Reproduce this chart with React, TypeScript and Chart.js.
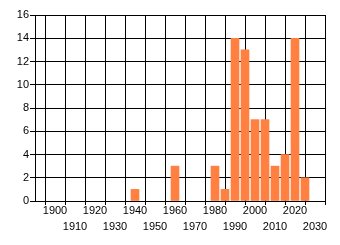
import React, { useEffect, useRef } from "react";
import { Chart, registerables } from "chart.js";

Chart.register(...registerables);

const years: number[] = [1940, 1960, 1980, 1985, 1990, 1995, 2000, 2005, 2010, 2015, 2020, 2025];
const counts: number[] = [1, 3, 3, 1, 14, 13, 7, 7, 3, 4, 14, 2];
const xMin = 1890;
const xMax = 2035;
const xStep = 10;
const yMin = 0;
const yMax = 16;
const yStep = 2;

const FONT = "'Liberation Sans', Arial, sans-serif";

export default function App() {
  const ref = useRef<HTMLCanvasElement | null>(null);
  useEffect(() => {
    document.body.style.margin = "0";
    const canvas = ref.current;
    if (!canvas) return;
    const chart = new Chart(canvas, {
      type: "bar",
      data: {
        datasets: [
          {
            data: years.map((x, i) => ({ x, y: counts[i] })),
            backgroundColor: "#FF8040",
            borderWidth: 0,
            barThickness: 8,
          },
        ],
      },
      options: {
        responsive: false,
        animation: false,
        plugins: { legend: { display: false }, tooltip: { enabled: false } },
        layout: { padding: { top: 15, right: 15, left: 0, bottom: 0 } },
        scales: {
          x: {
            type: "linear",
            min: xMin,
            max: xMax,
            offset: false,
            grid: {
              color: "#000",
              lineWidth: 1,
              tickLength: 4,
              tickColor: (ctx: any) => (ctx.tick && ctx.tick.value === xMin ? "rgba(0,0,0,0)" : "#000"),
            },
            border: { color: "#000", width: 1 },
            ticks: {
              stepSize: xStep,
              includeBounds: false,
              autoSkip: false,
              maxRotation: 0,
              minRotation: 0,
              padding: -2,
              color: "#000",
              font: { family: FONT, size: 11, lineHeight: 16 / 11 },
              callback: (v: any) => {
                const n = Number(v);
                if (n === xMin) return "";
                const idx = Math.round((n - 1900) / 10);
                return idx % 2 === 0 ? String(n) : ["", String(n)];
              },
            },
            afterFit: (s: any) => {
              s.height = 44;
            },
          },
          y: {
            min: yMin,
            max: yMax,
            grid: { color: "#000", lineWidth: 1, tickLength: 5 },
            border: { color: "#000", width: 1 },
            ticks: {
              stepSize: yStep,
              padding: 1,
              color: "#000",
              font: { family: FONT, size: 11 },
            },
            afterFit: (s: any) => {
              s.width = 35;
            },
          },
        },
      },
    });
    return () => chart.destroy();
  }, []);
  return (
    <div style={{ width: 340, height: 245 }}>
      <canvas ref={ref} width={340} height={245} style={{ width: 340, height: 245, display: "block" }} />
    </div>
  );
}
